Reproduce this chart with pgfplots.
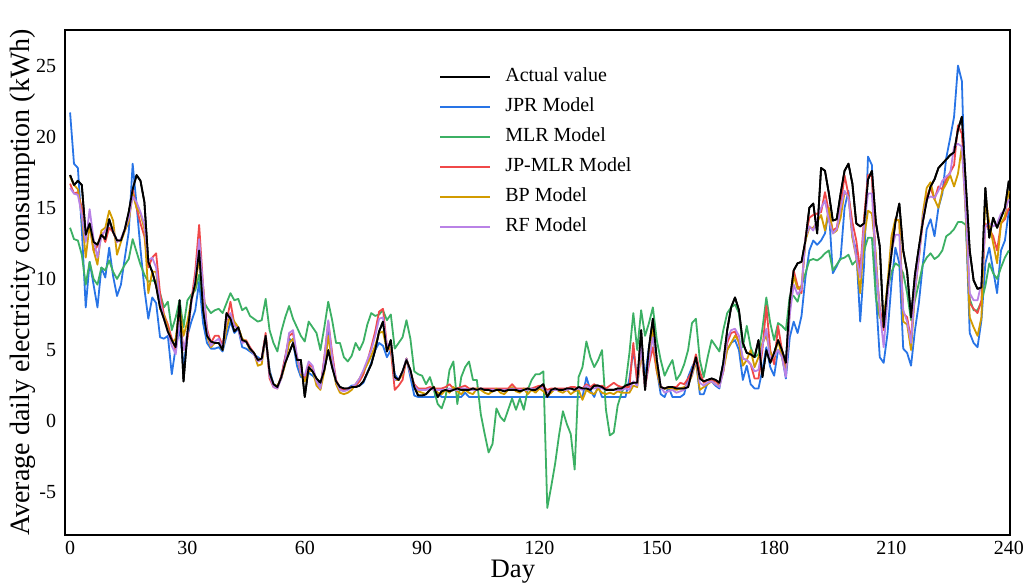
\documentclass[border=0pt]{standalone}
\usepackage{pgfplots}
\usepackage{pgfplotstable}
\usepackage{fontspec}
\setmainfont{Liberation Serif}
\pgfplotsset{compat=1.18}
\definecolor{jprc}{RGB}{40,116,230}
\definecolor{mlrc}{RGB}{60,176,100}
\definecolor{jpmc}{RGB}{240,72,72}
\definecolor{bpc}{RGB}{210,155,0}
\definecolor{rfc}{RGB}{185,130,230}
\pgfplotstableread{
d A J M R B F
0 17.3 21.7 13.6 16.7 17.2 16.4
1 16.6 18.1 12.8 16.0 16.6 16.0
2 16.9 17.8 12.7 16.1 16.3 15.9
3 16.6 13.5 11.7 15.0 14.5 14.5
4 13.1 8.0 9.6 13.3 11.5 12.6
5 13.9 11.2 11.2 13.8 13.8 14.9
6 12.6 9.6 10.0 12.0 12.0 12.8
7 12.4 8.0 9.6 12.3 11.0 11.5
8 13.1 10.8 10.8 13.3 13.4 13.0
9 12.8 10.1 10.6 12.6 13.6 13.4
10 14.2 12.2 11.3 13.6 14.8 13.9
11 13.3 10.2 10.5 13.3 14.1 13.4
12 12.7 8.8 10.0 12.6 11.7 12.6
13 12.7 9.6 10.5 12.8 12.6 12.8
14 13.5 11.5 11.0 13.4 13.4 13.5
15 14.7 13.3 11.4 14.2 14.0 14.3
16 16.3 18.1 12.8 16.3 16.0 15.8
17 17.3 15.2 11.9 15.0 15.0 15.4
18 16.9 12.1 11.0 13.9 14.6 14.7
19 15.4 9.3 10.3 13.0 13.5 13.8
20 11.2 7.2 9.8 10.8 9.0 11.3
21 10.5 8.7 9.9 11.5 10.5 11.5
22 9.5 8.3 9.8 11.8 10.5 10.8
23 8.0 5.9 9.0 9.0 7.9 8.4
24 7.2 5.8 8.0 7.5 7.5 7.2
25 6.3 6.0 8.4 6.8 6.5 6.3
26 5.7 3.3 6.4 5.8 5.5 5.3
27 5.2 5.2 7.3 5.0 5.8 4.7
28 8.5 6.5 8.5 7.5 8.0 7.0
29 2.8 3.8 6.6 5.0 6.0 5.0
30 6.2 6.0 8.5 5.8 7.0 6.2
31 8.5 7.0 8.9 8.5 8.5 8.3
32 9.7 7.8 9.2 10.5 9.5 10.0
33 12.0 9.8 10.3 13.8 11.5 12.8
34 7.8 6.9 8.5 9.5 9.5 9.5
35 6.0 5.5 8.0 6.5 6.0 6.3
36 5.6 5.1 7.6 5.5 5.2 5.3
37 5.5 5.1 7.8 6.0 5.5 5.6
38 5.5 5.2 7.9 6.0 5.5 5.8
39 5.0 4.9 7.6 5.3 5.0 5.1
40 7.6 6.0 8.3 7.0 6.5 7.2
41 7.2 7.0 9.0 8.4 7.5 7.6
42 6.3 6.2 8.5 6.8 7.0 6.7
43 6.6 6.5 8.6 6.5 6.6 6.5
44 5.7 5.2 7.8 5.6 5.8 5.5
45 5.6 5.1 8.0 5.7 5.6 5.6
46 5.1 4.9 7.4 5.2 5.0 5.1
47 4.8 4.7 7.2 4.8 4.8 4.7
48 4.3 4.5 7.0 4.3 3.9 4.2
49 4.4 4.3 7.1 4.4 4.0 4.3
50 6.0 5.8 8.6 6.2 6.0 6.0
51 3.4 3.6 6.4 3.0 3.4 3.2
52 2.6 2.6 5.5 2.4 2.5 2.4
53 2.4 2.4 4.9 2.3 2.5 2.3
54 3.1 3.1 6.3 3.2 3.0 3.0
55 4.1 4.5 7.3 4.5 4.0 4.3
56 4.8 5.8 8.1 6.0 5.5 6.2
57 5.5 5.6 7.2 6.2 5.8 6.4
58 4.3 3.9 6.6 4.5 4.5 4.6
59 4.3 3.1 6.0 3.5 3.3 3.4
60 1.7 3.1 5.6 3.0 2.8 3.2
61 3.8 3.4 7.0 4.0 3.5 4.2
62 3.5 3.2 6.6 3.8 3.6 3.9
63 3.0 2.9 6.2 2.8 2.5 2.8
64 2.7 2.3 5.0 2.3 2.2 2.3
65 3.6 4.3 6.6 4.5 3.5 4.3
66 5.0 6.4 8.4 7.0 6.0 7.1
67 3.8 4.5 7.1 4.8 4.2 4.5
68 2.8 2.7 5.5 2.9 2.6 2.8
69 2.4 2.3 5.5 2.3 2.0 2.2
70 2.3 2.2 4.5 2.2 1.9 2.1
71 2.3 2.3 4.2 2.3 2.0 2.2
72 2.4 2.5 4.6 2.4 2.2 2.4
73 2.4 2.5 5.5 2.5 2.6 2.6
74 2.5 2.5 5.0 2.8 3.0 3.0
75 2.8 2.7 5.6 3.3 3.5 3.6
76 3.4 3.4 6.8 4.2 4.0 4.3
77 4.0 4.1 7.6 5.2 4.6 5.0
78 5.0 5.0 7.4 6.3 5.3 6.0
79 6.3 5.5 7.5 7.7 6.2 7.2
80 7.0 5.3 7.8 7.9 6.3 7.3
81 4.9 4.5 7.1 5.3 5.0 5.3
82 5.7 5.0 7.5 5.0 5.3 5.5
83 3.1 3.3 5.1 2.2 2.9 2.9
84 2.9 2.9 5.5 2.5 2.9 3.0
85 3.5 3.4 5.9 2.9 3.3 3.4
86 4.3 4.4 7.1 4.4 4.4 4.4
87 3.6 3.1 5.8 3.4 3.4 3.4
88 2.4 1.8 3.5 2.6 2.5 2.5
89 1.8 1.7 3.3 2.3 2.1 2.2
90 1.8 1.7 3.2 2.3 2.0 2.2
91 1.9 1.7 2.6 2.3 1.9 2.2
92 2.2 1.7 3.1 2.4 2.2 2.3
93 2.4 1.7 2.2 2.3 2.4 2.2
94 1.7 2.0 1.2 2.3 2.0 2.2
95 2.1 1.7 0.9 2.3 1.9 2.2
96 2.2 1.7 1.7 2.4 2.2 2.2
97 2.1 1.7 3.6 2.6 2.0 2.3
98 2.2 1.7 4.2 2.3 2.4 2.2
99 2.3 1.7 1.2 2.3 2.1 2.2
100 2.2 1.7 3.1 2.4 1.9 2.3
101 2.2 2.0 3.8 2.5 2.2 2.3
102 2.2 1.7 4.2 2.3 2.0 2.2
103 2.3 1.7 2.9 2.3 1.9 2.2
104 2.2 1.7 2.9 2.3 2.3 2.2
105 2.3 1.7 0.5 2.3 2.2 2.3
106 2.2 1.7 -0.9 2.3 2.0 2.2
107 2.2 1.7 -2.2 2.3 1.9 2.2
108 2.1 1.7 -1.6 2.3 2.1 2.2
109 2.2 1.7 0.9 2.3 2.3 2.2
110 2.2 1.7 0.3 2.3 2.0 2.2
111 2.1 1.7 0.0 2.3 1.9 2.2
112 2.2 1.7 0.8 2.3 2.2 2.2
113 2.2 1.7 1.6 2.6 2.4 2.3
114 2.2 1.7 0.8 2.3 2.1 2.2
115 2.1 1.7 1.6 2.3 2.0 2.2
116 2.2 1.7 0.8 2.3 2.3 2.2
117 2.3 1.7 2.2 2.3 1.9 2.2
118 2.2 1.7 2.9 2.3 2.2 2.3
119 2.2 1.7 3.3 2.4 2.0 2.2
120 2.4 1.7 3.3 2.5 2.3 2.4
121 2.6 1.7 3.5 2.4 2.1 2.3
122 1.7 1.7 -6.1 2.2 1.8 2.0
123 2.2 1.7 -4.6 2.3 2.0 2.2
124 2.3 1.7 -3.0 2.3 2.3 2.2
125 2.2 1.7 -1.0 2.3 2.1 2.2
126 2.2 1.7 0.7 2.3 2.0 2.2
127 2.3 1.7 -0.2 2.3 2.2 2.2
128 2.3 1.7 -0.9 2.4 1.9 2.3
129 2.2 1.7 -3.4 2.4 2.1 2.2
130 2.4 1.7 3.1 2.3 2.2 2.3
131 2.3 1.7 3.8 2.3 1.5 2.2
132 2.3 3.1 5.6 2.6 2.2 2.5
133 2.2 2.2 4.5 2.4 2.0 2.3
134 2.5 1.7 3.8 2.6 1.9 2.3
135 2.5 2.5 4.3 2.4 2.3 2.4
136 2.4 1.7 5.0 2.5 2.0 2.3
137 2.2 1.7 0.8 2.3 1.9 2.2
138 2.2 1.7 -1.0 2.5 2.0 2.2
139 2.2 1.7 -0.8 2.7 1.9 2.2
140 2.3 1.7 1.1 2.5 2.1 2.2
141 2.3 1.7 2.0 2.4 2.0 2.2
142 2.5 1.7 2.6 2.4 2.0 2.3
143 2.6 3.0 4.8 2.4 2.0 2.2
144 2.7 5.0 7.6 5.5 2.5 2.8
145 2.7 2.9 5.0 2.6 2.4 2.5
146 6.4 5.2 7.8 5.0 4.8 5.2
147 2.2 3.1 6.0 2.4 2.6 2.4
148 5.2 5.2 6.9 4.0 4.5 4.3
149 7.2 6.4 8.0 5.2 6.6 5.9
150 4.3 3.6 5.7 3.5 3.6 4.3
151 2.4 1.9 4.3 2.4 2.3 2.4
152 2.3 1.7 3.2 2.3 2.3 2.0
153 2.4 2.4 3.8 2.4 2.3 2.1
154 2.4 1.7 4.3 2.4 2.3 2.2
155 2.3 1.7 2.9 2.4 2.2 2.0
156 2.3 1.7 3.3 2.7 2.3 2.1
157 2.3 1.9 4.0 2.6 2.4 2.2
158 2.4 3.1 5.0 3.0 2.6 2.7
159 3.5 3.8 6.9 3.5 3.2 3.3
160 4.5 4.3 7.2 4.7 4.2 4.4
161 3.0 1.9 4.3 3.5 2.2 2.7
162 2.8 1.9 3.1 2.7 2.4 2.5
163 2.9 2.7 4.5 2.9 2.6 2.7
164 3.0 2.8 5.7 2.9 2.8 2.8
165 2.9 2.5 5.3 2.8 2.6 2.6
166 2.7 2.3 4.9 2.6 2.5 2.4
167 4.1 4.1 6.4 3.5 3.5 3.5
168 6.4 5.0 7.6 5.5 5.0 5.8
169 8.0 5.5 8.0 6.2 5.5 6.4
170 8.7 5.7 8.2 6.3 6.0 6.5
171 7.8 5.0 7.6 5.5 5.6 6.0
172 5.5 2.9 5.2 4.4 3.9 4.4
173 4.8 3.9 6.7 4.3 4.3 4.3
174 4.7 2.6 5.2 4.0 5.0 4.0
175 4.5 2.3 4.5 3.0 3.8 3.5
176 5.7 2.3 4.7 3.0 4.5 3.6
177 3.1 3.6 6.5 5.0 5.5 5.3
178 5.0 5.2 8.7 8.1 6.0 6.5
179 4.1 3.8 6.9 5.0 4.8 4.3
180 4.8 3.2 5.7 4.0 4.5 4.6
181 5.7 5.0 6.9 6.7 5.7 5.0
182 5.0 4.6 6.7 5.0 4.5 4.5
183 4.1 3.0 6.4 3.4 3.3 3.1
184 8.5 5.9 8.8 8.0 8.0 7.5
185 10.6 7.0 8.8 10.6 10.2 9.6
186 11.1 6.2 8.4 9.5 9.3 8.9
187 11.2 7.4 9.5 9.0 9.5 9.3
188 12.7 10.1 10.4 12.9 12.7 12.9
189 15.0 12.0 11.3 14.3 13.6 13.7
190 15.3 12.7 11.4 14.5 13.6 13.4
191 13.2 12.4 11.3 14.6 14.0 14.2
192 17.8 12.7 11.5 14.7 14.5 15.0
193 17.6 13.2 11.8 16.1 13.4 15.5
194 16.0 14.8 12.0 14.7 15.0 14.1
195 14.1 10.4 10.6 13.4 13.2 13.2
196 14.2 10.9 11.0 13.6 13.4 13.5
197 16.0 11.5 11.4 15.1 14.3 15.0
198 17.6 15.0 11.5 17.3 16.1 16.2
199 18.1 16.2 11.7 15.9 15.8 15.7
200 16.7 13.0 11.0 14.0 12.9 13.2
201 13.9 12.0 11.3 12.7 11.5 11.5
202 13.7 7.0 10.8 10.6 9.0 10.1
203 13.9 11.0 12.0 14.3 12.9 13.9
204 17.0 18.6 12.9 17.3 14.8 16.0
205 17.6 18.0 12.9 17.2 14.6 16.0
206 14.0 9.0 8.7 11.1 11.7 11.1
207 12.3 4.5 7.3 8.0 7.3 7.8
208 6.6 4.1 7.0 6.4 7.0 5.2
209 9.5 6.2 9.2 9.2 9.7 8.7
210 11.8 9.7 10.5 12.0 13.0 12.0
211 14.0 12.2 11.1 14.2 14.2 13.1
212 15.3 11.1 10.9 14.1 14.1 13.1
213 12.0 5.1 10.4 7.6 7.0 7.8
214 10.5 4.8 9.0 7.3 6.8 7.0
215 7.3 3.9 7.1 5.7 5.0 5.5
216 10.3 6.4 8.5 9.7 9.0 9.2
217 12.2 8.3 9.7 11.5 11.5 11.5
218 14.0 11.0 11.0 14.0 14.6 14.3
219 15.5 13.5 11.5 15.8 16.4 15.6
220 16.5 14.2 11.8 16.4 16.8 15.8
221 17.0 13.0 11.4 15.6 15.6 15.7
222 17.8 15.0 11.6 16.5 15.0 16.2
223 18.1 16.0 12.0 16.3 16.2 16.9
224 18.4 18.5 13.0 17.0 16.7 17.2
225 18.7 19.9 13.2 17.5 17.3 17.4
226 18.9 21.4 13.5 18.0 16.5 19.3
227 20.5 25.0 14.0 20.8 17.4 19.5
228 21.4 23.9 14.0 20.2 19.3 19.3
229 16.7 14.4 13.8 15.7 14.5 14.8
230 12.0 6.2 8.6 8.3 7.3 9.0
231 9.9 5.5 7.8 7.9 6.6 8.5
232 9.3 5.2 7.8 7.6 6.0 8.5
233 9.4 7.1 8.4 8.5 7.3 9.7
234 16.4 11.1 9.5 13.9 15.8 13.7
235 12.9 12.2 11.1 13.5 13.9 13.9
236 14.3 10.6 10.4 13.0 12.5 13.7
237 13.6 9.0 10.0 12.0 11.1 13.9
238 14.3 12.0 10.8 13.9 13.9 14.6
239 15.0 12.7 11.5 14.2 14.4 14.8
240 16.9 14.8 12.0 15.0 16.2 15.6
}\datatab
\begin{document}
\begin{tikzpicture}
\begin{axis}[
  name=ax,
  scale only axis,
  width=708.75pt, height=378.75pt,
  xmin=-1.3, xmax=240.3,
  ymin=-8, ymax=27.5,
  xtick={0,30,...,240},
  ytick={-5,0,5,10,15,20,25},
  major tick length=0pt,
  axis line style={line width=0.9pt, black},
  tick label style={font=\fontsize{15}{17}\selectfont},
  /pgf/number format/assume math mode=true,
  yticklabel style={inner sep=0pt, xshift=-6.5pt},
  xticklabel style={inner sep=0pt, yshift=-4.5pt},
  xlabel={Day},
  ylabel={Average daily electricity consumption (kWh)},
  every axis x label/.style={at={(axis description cs:0.474,-0.073)}, anchor=center, font=\fontsize{20}{24}\selectfont},
  every axis y label/.style={at={(axis description cs:-0.0445,0.5)}, rotate=90, anchor=center, font=\fontsize{21}{25}\selectfont},
  legend style={at={(0.3957,0.927)}, anchor=north west, draw=none, fill=none,
    font=\fontsize{15}{18}\selectfont, row sep=7.5pt, inner sep=0pt,
    nodes={inner sep=0pt, text height=11pt, text depth=4pt},
    /tikz/every odd column/.append style={column sep=10.5pt}},
  legend cell align=left,
  legend image code/.code={\draw[#1, line width=1.6pt] (0pt,0pt) -- (37.5pt,0pt);},
  every axis plot/.append style={line width=1.35pt, line join=round},
]
\addplot[black] table[x=d,y=A] {\datatab};
\addlegendentry{Actual value}
\addplot[jprc] table[x=d,y=J] {\datatab};
\addlegendentry{JPR Model}
\addplot[mlrc] table[x=d,y=M] {\datatab};
\addlegendentry{MLR Model}
\addplot[jpmc] table[x=d,y=R] {\datatab};
\addlegendentry{JP-MLR Model}
\addplot[bpc] table[x=d,y=B] {\datatab};
\addlegendentry{BP Model}
\addplot[rfc] table[x=d,y=F] {\datatab};
\addlegendentry{RF Model}
\addplot[black, forget plot] table[x=d,y=A] {\datatab};
\end{axis}
\path (ax.south west) ++(-48.75pt,-36.75pt) rectangle ++(771.75pt,438pt);
\end{tikzpicture}
\end{document}
